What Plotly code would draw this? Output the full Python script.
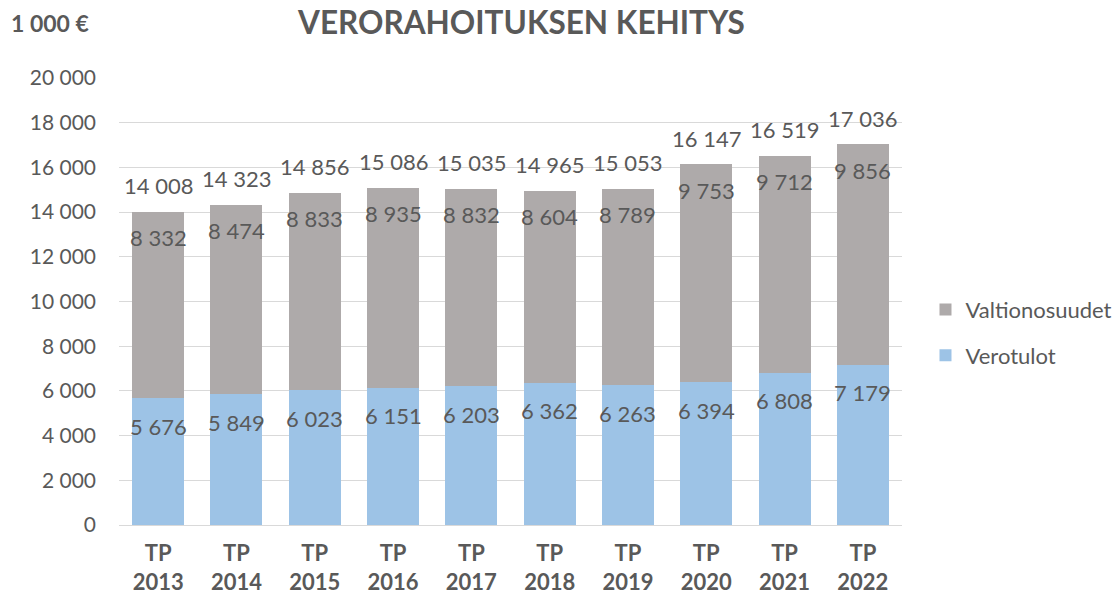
import plotly.graph_objects as go

years = ["2013", "2014", "2015", "2016", "2017", "2018", "2019", "2020", "2021", "2022"]
categories = ["TP<br>" + y for y in years]
verotulot = [5676, 5849, 6023, 6151, 6203, 6362, 6263, 6394, 6808, 7179]
valtionosuudet = [8332, 8474, 8833, 8935, 8832, 8604, 8789, 9753, 9712, 9856]
totals = [14008, 14323, 14856, 15086, 15035, 14965, 15053, 16147, 16519, 17036]

BLUE = "#9DC3E6"
GRAY = "#AEAAAA"
TEXT = "#595959"
FONT = "Lato"


def fmt(v):
    return f"{v:,}".replace(",", " ")


fig = go.Figure()

fig.add_trace(go.Bar(x=categories, y=verotulot, name="Verotulot",
                     legendgroup="a", legendrank=2,
                     marker=dict(color=BLUE, line=dict(width=0))))
fig.add_trace(go.Bar(x=categories, y=valtionosuudet, name="Valtionosuudet",
                     legendgroup="b", legendrank=1,
                     marker=dict(color=GRAY, line=dict(width=0))))

# value labels (inside end of each segment, totals above)
label_font = dict(size=22, color=TEXT, family=FONT)
annotations = []
for i, cat in enumerate(categories):
    annotations.append(dict(x=cat, y=verotulot[i], text=fmt(verotulot[i]),
                            showarrow=False, yshift=-28, font=label_font))
    annotations.append(dict(x=cat, y=totals[i], text=fmt(valtionosuudet[i]),
                            showarrow=False, yshift=-26, font=label_font))
    annotations.append(dict(x=cat, y=totals[i], text=fmt(totals[i]),
                            showarrow=False, yshift=26, font=label_font))

annotations.append(dict(xref="paper", yref="paper", x=-0.141, y=1.124,
                        xanchor="left", yanchor="middle", showarrow=False,
                        text="<b>1 000 €</b>",
                        font=dict(size=23, color=TEXT, family=FONT)))

fig.update_layout(
    width=1119, height=595,
    margin=dict(l=119, r=217, t=78, b=70, autoexpand=False),
    paper_bgcolor="white", plot_bgcolor="white",
    barmode="stack", bargap=0.335,
    separators=", ",
    font=dict(family=FONT, color=TEXT, size=20),
    title=dict(text="<b>VERORAHOITUKSEN KEHITYS</b>", x=0.466, xanchor="center",
               xref="container", y=0.962, yanchor="middle", yref="container",
               font=dict(size=31.5, color=TEXT, family=FONT)),
    legend=dict(x=1.03, y=0.43, xanchor="left", yanchor="middle",
                traceorder="grouped", tracegroupgap=14,
                font=dict(size=22, color=TEXT, family=FONT)),
    annotations=annotations,
)

fig.update_xaxes(showline=False, ticks="", automargin=False, ticklabelstandoff=13,
                 tickfont=dict(size=22, color=TEXT, family=FONT, weight="bold"))
fig.update_yaxes(range=[0, 20000], dtick=2000, tickformat=",d", automargin=False,
                 showgrid=True, gridcolor="#D9D9D9", gridwidth=1.3,
                 zeroline=True, zerolinecolor="#D9D9D9", zerolinewidth=1.3,
                 ticks="", ticklabelstandoff=22,
                 tickfont=dict(size=21, color=TEXT, family=FONT))

# drop the default page margin so the figure sits at the window's corner
fig.write_html("out.html", config={"displayModeBar": False},
               post_script="document.body.style.margin = '0';")
